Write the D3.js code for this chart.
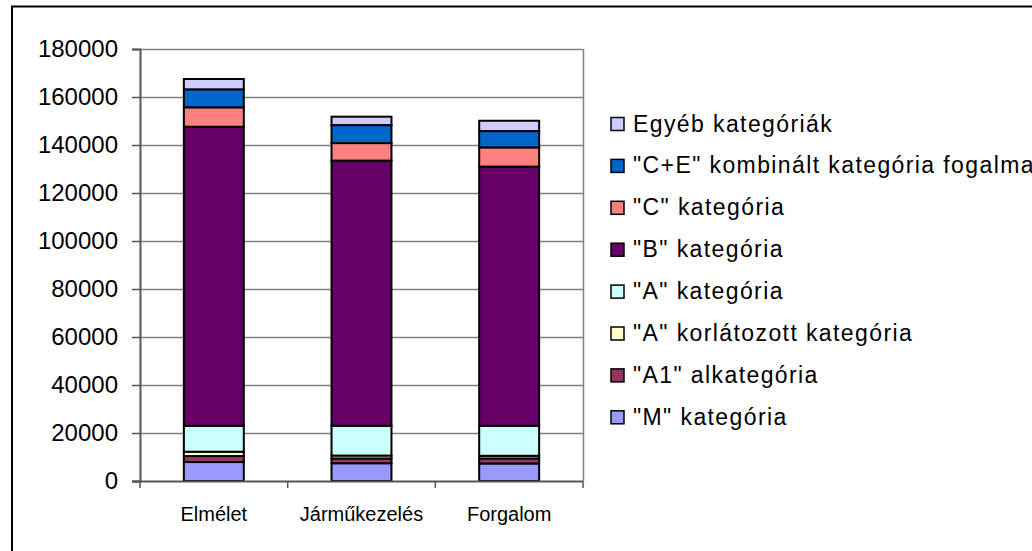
<!DOCTYPE html>
<html>
<head>
<meta charset="utf-8">
<script src="https://cdn.jsdelivr.net/npm/d3@7"></script>
<style>
  html, body { margin: 0; padding: 0; background: #fff; }
  svg { display: block; font-family: "Liberation Sans", Arial, sans-serif; }
</style>
</head>
<body>
<svg id="chart" width="1032" height="551"></svg>
<script>
// ---- data ----
const categories = ["Elmélet", "Járműkezelés", "Forgalom"];
const seriesNames = [
  "\"M\" kategória",
  "\"A1\" alkategória",
  "\"A\" korlátozott kategória",
  "\"A\" kategória",
  "\"B\" kategória",
  "\"C\" kategória",
  "\"C+E\" kombinált kategória fogalmazás",
  "Egyéb kategóriák"
];
const valuesM     = [7900, 7400, 7300];
const valuesA1    = [2500, 2000, 2100];
const valuesAkorl = [1800, 1200, 1100];
const valuesA     = [10800, 12400, 12500];
const valuesB     = [124600, 110500, 108000];
const valuesC     = [8100, 7300, 8000];
const valuesCE    = [7500, 7500, 6800];
const valuesEgyeb = [4300, 3500, 4300];
const yTicks = [0, 20000, 40000, 60000, 80000, 100000, 120000, 140000, 160000, 180000];
const colors = ["#9999FF", "#993366", "#FFFFCC", "#CCFFFF", "#660066", "#FF8080", "#0066CC", "#CCCCFF"];

const seriesValues = [valuesM, valuesA1, valuesAkorl, valuesA, valuesB, valuesC, valuesCE, valuesEgyeb];
const table = categories.map((c, i) => {
  const row = { cat: c };
  seriesNames.forEach((s, j) => row[s] = seriesValues[j][i]);
  return row;
});

const svg = d3.select("#chart");

// outer border (extends beyond image right/bottom)
svg.append("rect")
  .attr("x", 12).attr("y", 6.5)
  .attr("width", 1100).attr("height", 600)
  .attr("fill", "none").attr("stroke", "#000").attr("stroke-width", 2);

const plotL = 140, plotR = 583, plotT = 49, plotB = 481;

const x = d3.scaleBand().domain(categories).range([plotL, plotR])
  .paddingInner(0.594).paddingOuter(0.297);
const y = d3.scaleLinear().domain([0, 180000]).range([plotB, plotT]);

// gridlines
svg.append("g").selectAll("line").data(yTicks.filter(t => t > 0)).join("line")
  .attr("x1", plotL).attr("x2", plotR)
  .attr("y1", d => y(d) + 0.5).attr("y2", d => y(d) + 0.5)
  .attr("stroke", "#808080").attr("stroke-width", 1.5);

// plot area right border
svg.append("line")
  .attr("x1", plotR + 0.5).attr("x2", plotR + 0.5)
  .attr("y1", plotT).attr("y2", plotB)
  .attr("stroke", "#808080").attr("stroke-width", 1.5);

// stacked bars
const stack = d3.stack().keys(seriesNames);
const stacked = stack(table);

svg.append("g").selectAll("g").data(stacked).join("g")
  .attr("fill", (d, i) => colors[i])
  .selectAll("rect").data(d => d).join("rect")
  .attr("x", d => x(d.data.cat))
  .attr("width", x.bandwidth())
  .attr("y", d => y(d[1]))
  .attr("height", d => y(d[0]) - y(d[1]))
  .attr("stroke", "#000").attr("stroke-width", 2);

// y axis
const yAxis = d3.axisLeft(y).tickValues(yTicks).tickSize(8).tickPadding(14)
  .tickFormat(d3.format("d"));
const gy = svg.append("g").attr("transform", `translate(${plotL},0)`).call(yAxis);
gy.select(".domain").attr("stroke", "#555").attr("stroke-width", 2);
gy.selectAll(".tick line").attr("stroke", "#555").attr("stroke-width", 1.5);
gy.selectAll(".tick text").attr("font-size", 24).attr("fill", "#000")
  .attr("font-family", "'Liberation Sans', Arial, sans-serif");

// x axis
const xEdges = d3.range(categories.length + 1).map(i => plotL + i * x.step());
const gx = svg.append("g");
gx.append("line").attr("x1", plotL - 8).attr("x2", plotR)
  .attr("y1", plotB + 0.5).attr("y2", plotB + 0.5)
  .attr("stroke", "#555").attr("stroke-width", 2);
gx.selectAll("line.tk").data(xEdges).join("line").attr("class", "tk")
  .attr("x1", d => d).attr("x2", d => d)
  .attr("y1", plotB).attr("y2", plotB + 7)
  .attr("stroke", "#555").attr("stroke-width", 1.5);
gx.selectAll("text").data(categories).join("text")
  .attr("x", d => x(d) + x.bandwidth() / 2)
  .attr("y", 521)
  .attr("text-anchor", "middle")
  .attr("font-size", 20)
  .attr("fill", "#000")
  .text(d => d);

// legend
const legendItems = seriesNames.map((s, i) => ({ name: s, color: colors[i] })).reverse();
const lg = svg.append("g");
const rowH = 41.9, firstBase = 131.5;
const items = lg.selectAll("g").data(legendItems).join("g")
  .attr("transform", (d, i) => `translate(0, ${firstBase + i * rowH})`);
items.append("rect")
  .attr("x", 611).attr("y", -14).attr("width", 13).attr("height", 13)
  .attr("fill", d => d.color).attr("stroke", "#000").attr("stroke-width", 1.5);
items.append("text")
  .attr("x", 633).attr("y", 0)
  .attr("font-size", 23)
  .attr("letter-spacing", 1.4)
  .attr("fill", "#000")
  .text(d => d.name);
</script>
</body>
</html>
